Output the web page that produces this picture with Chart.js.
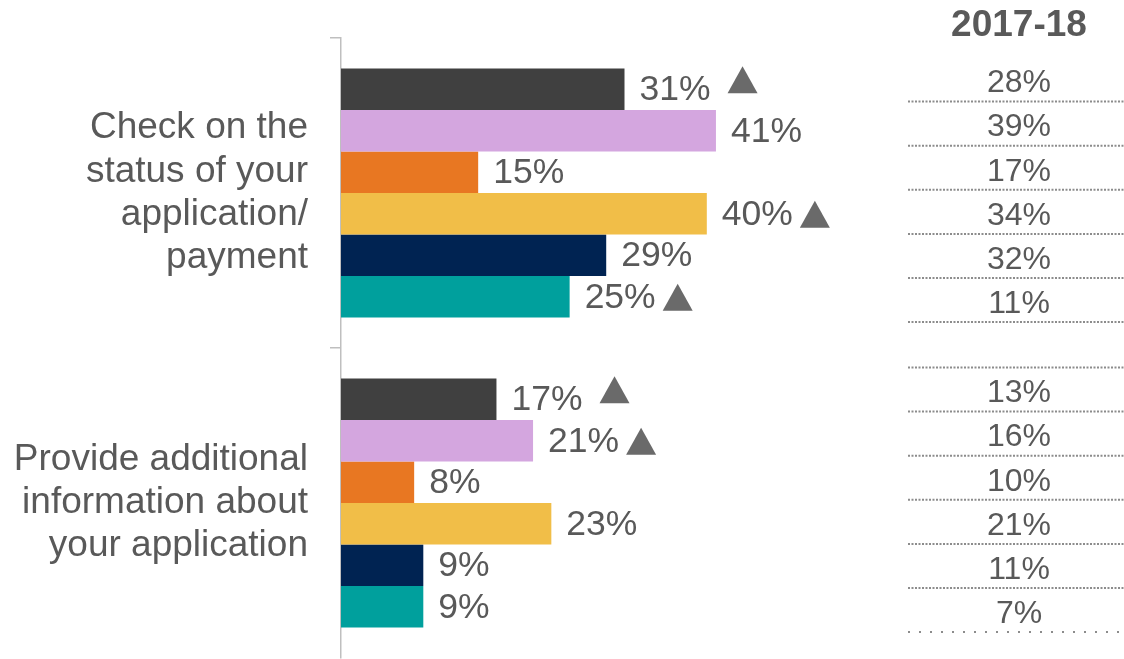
<!DOCTYPE html>
<html>
<head>
<meta charset="utf-8">
<script src="https://cdn.jsdelivr.net/npm/chart.js@4"></script>
<style>
  html, body { margin: 0; padding: 0; background: #ffffff; }
  #wrap { width: 1124px; height: 659px; }
</style>
</head>
<body>
<div id="wrap"><canvas id="chart" width="1124" height="659"></canvas></div>
<script>
// Categories (y axis)
const categories = [
  ['Check on the', 'status of your', 'application/', 'payment'],
  ['Provide additional', 'information about', 'your application']
];

// Series (one value per category)
const seriesNames = ['Group 1', 'Group 2', 'Group 3', 'Group 4', 'Group 5', 'Group 6'];
const seriesColors = ['#404040', '#d4a6df', '#e87722', '#f1be48', '#002352', '#00a09d'];
const group1 = [31, 17];
const group2 = [41, 21];
const group3 = [15, 8];
const group4 = [40, 23];
const group5 = [29, 9];
const group6 = [25, 9];
const seriesValues = [group1, group2, group3, group4, group5, group6];

// Significant increase markers
const sigUp = [
  [true, true],
  [false, true],
  [false, false],
  [true, false],
  [false, false],
  [true, false]
];

// Previous year column
const prevHeader = '2017-18';
const prev1 = [28, 13];
const prev2 = [39, 16];
const prev3 = [17, 10];
const prev4 = [34, 21];
const prev5 = [32, 11];
const prev6 = [11, 7];
const prevValues = [prev1, prev2, prev3, prev4, prev5, prev6];

const FONT = '"Liberation Sans", Arial, sans-serif';
const TEXT = '#595959';
const MARK = '#6a6a6a';

// Value labels + triangles next to the bars
const barLabels = {
  id: 'barLabels',
  afterDatasetsDraw(chart) {
    const ctx = chart.ctx;
    ctx.save();
    ctx.font = '35.5px ' + FONT;
    ctx.fillStyle = TEXT;
    ctx.textBaseline = 'middle';
    ctx.textAlign = 'left';
    chart.data.datasets.forEach((ds, di) => {
      const meta = chart.getDatasetMeta(di);
      meta.data.forEach((bar, i) => {
        const txt = ds.data[i] + '%';
        const x = bar.x + 15;
        ctx.fillStyle = TEXT;
        ctx.fillText(txt, x, bar.y + 1);
        if (sigUp[di][i]) {
          const w = ctx.measureText(txt).width;
          const gap = di === 0 ? 17 : 7;
          const lift = di === 0 ? 10 : 0;
          const tx = x + w + gap;
          const cy = bar.y - lift;
          ctx.fillStyle = MARK;
          ctx.beginPath();
          ctx.moveTo(tx, cy + 14);
          ctx.lineTo(tx + 30, cy + 14);
          ctx.lineTo(tx + 15, cy - 13);
          ctx.closePath();
          ctx.fill();
        }
      });
    });
    ctx.restore();
  }
};

// Right-hand column with previous year values and dotted rules
const prevColumn = {
  id: 'prevColumn',
  afterDraw(chart) {
    const ctx = chart.ctx;
    const y = chart.scales.y;
    const x0 = chart.chartArea.right;
    const x1 = chart.width;
    const cx = 1019;
    const band = y.getPixelForValue(1) - y.getPixelForValue(0);
    const rowH = band * 0.1423;
    ctx.save();
    ctx.fillStyle = TEXT;
    ctx.textAlign = 'center';
    ctx.textBaseline = 'middle';
    ctx.font = 'bold 37px ' + FONT;
    ctx.fillText(prevHeader, cx, 26);

    ctx.font = '32px ' + FONT;
    ctx.strokeStyle = '#8c8c8c';
    ctx.lineWidth = 2;
    const rule = (yy, dash) => {
      ctx.setLineDash(dash);
      ctx.beginPath();
      ctx.moveTo(x0, yy);
      ctx.lineTo(x1, yy);
      ctx.stroke();
    };
    categories.forEach((c, ci) => {
      const yc = y.getPixelForValue(ci);
      const first = yc - band * 0.295;
      if (ci > 0) rule(first - rowH, [2, 1.5]);
      prevValues.forEach((vals, si) => {
        const line = first + rowH * si;
        ctx.fillText(vals[ci] + '%', cx, line - 18);
        const last = ci === categories.length - 1 && si === prevValues.length - 1;
        rule(line, last ? [2, 9] : [2, 1.5]);
      });
    });
    ctx.restore();
  }
};

const datasets = seriesNames.map((name, i) => ({
  label: name,
  data: seriesValues[i],
  backgroundColor: seriesColors[i],
  borderWidth: 0,
  categoryPercentage: 0.803,
  barPercentage: 1
}));

new Chart(document.getElementById('chart'), {
  type: 'bar',
  data: { labels: categories, datasets: datasets },
  plugins: [barLabels, prevColumn],
  options: {
    indexAxis: 'y',
    responsive: false,
    animation: false,
    layout: { padding: { top: 38, bottom: 1, left: 0, right: 216 } },
    plugins: {
      legend: { display: false },
      tooltip: { enabled: false }
    },
    scales: {
      x: {
        display: false,
        min: 0,
        max: 62
      },
      y: {
        afterFit(scale) {
          scale.width = 341;
          scale.paddingTop = 0;
          scale.paddingBottom = 0;
        },
        border: { display: true, color: '#bfbfbf', width: 1.5 },
        grid: {
          display: true,
          offset: true,
          drawOnChartArea: false,
          drawTicks: true,
          tickLength: 11,
          // no tick mark at the very bottom edge
          color: (c) => c.type === 'tick' ? '#bfbfbf' : 'rgba(0,0,0,0)',
          lineWidth: 1.5
        },
        ticks: {
          padding: 22,
          color: TEXT,
          font: { family: FONT, size: 37, lineHeight: 1.17 }
        }
      }
    }
  }
});
</script>
</body>
</html>
